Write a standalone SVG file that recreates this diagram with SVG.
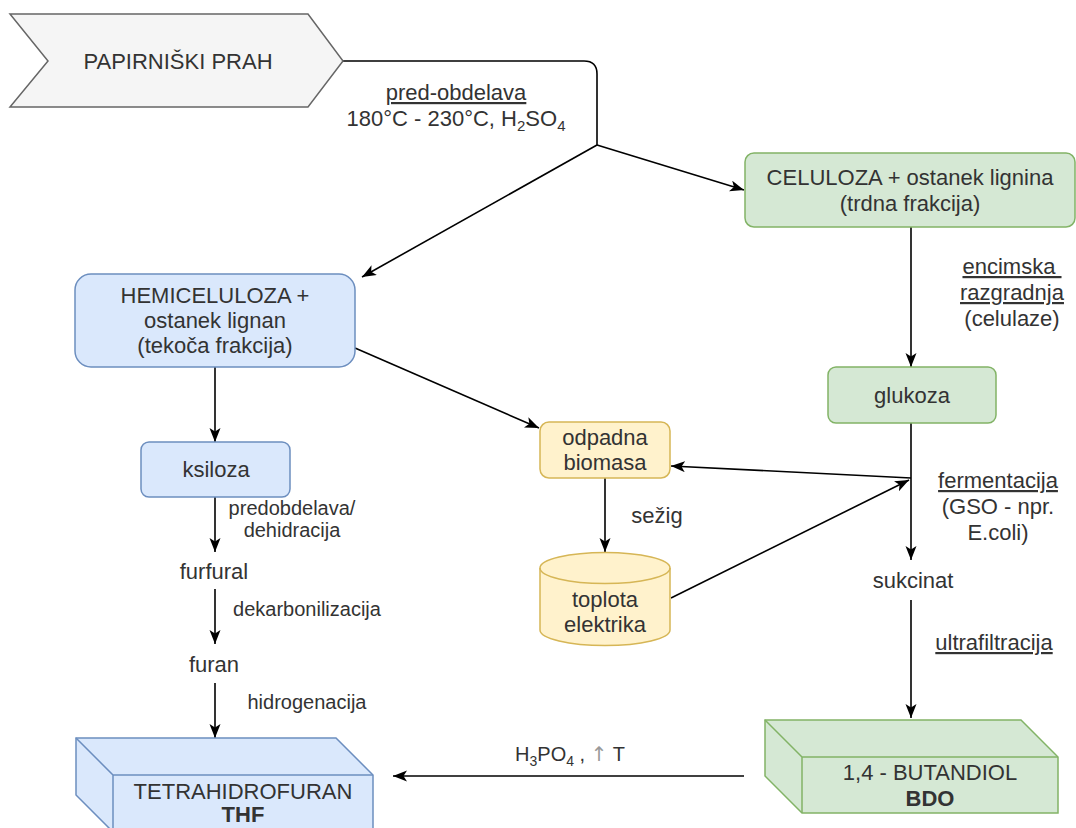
<svg xmlns="http://www.w3.org/2000/svg" width="1076" height="828" viewBox="0 0 1076 828">
<style>
text{font-family:"Liberation Sans",Arial,sans-serif;fill:#333;}
.n{font-size:22px;text-anchor:middle;}
.s{font-size:20px;text-anchor:middle;}
.u{text-decoration:underline;}
.b{font-weight:bold;}
.c{fill:none;stroke:#000;stroke-width:1.6;}
.ca{fill:none;stroke:#000;stroke-width:1.6;marker-end:url(#ah);}
.grey{fill:#f5f5f5;stroke:#666;stroke-width:1.5;}
.blue{fill:#dae8fc;stroke:#6c8ebf;stroke-width:1.5;}
.green{fill:#d5e8d4;stroke:#82b366;stroke-width:1.5;}
.yellow{fill:#fff2cc;stroke:#d6b656;stroke-width:1.5;}
</style>
<defs>
<marker id="ah" markerUnits="userSpaceOnUse" markerWidth="16" markerHeight="12" refX="14" refY="5.5" orient="auto">
<path d="M0,0 L14,5.5 L0,11 L3.5,5.5 z" fill="#000"/>
</marker>
</defs>
<rect width="1076" height="828" fill="#fff"/>

<g id="connectors">
<path class="c" d="M343,61 L584,61 Q597,61 597,74 L597,145"/>
<path class="ca" d="M597,145 L744,190"/>
<path class="ca" d="M597,145 L362,277"/>
<path class="ca" d="M355,348 L539,428"/>
<path class="ca" d="M215,367 L215,442"/>
<path class="ca" d="M215,497 L215,552"/>
<path class="ca" d="M215,589 L215,644"/>
<path class="ca" d="M215,683 L215,738"/>
<path class="ca" d="M911,227 L911,367"/>
<path class="ca" d="M911,423 L911,560"/>
<path class="ca" d="M911,478 L671,466"/>
<path class="ca" d="M671,598 L909,480"/>
<path class="ca" d="M605,478 L605,552"/>
<path class="ca" d="M911,600 L911,718"/>
<path class="ca" d="M744,776 L393,776"/>
</g>

<g id="labels">
<text class="n u" x="456" y="100">pred-obdelava</text>
<text class="n" x="456" y="126">180°C - 230°C, H<tspan dy="5" font-size="15">2</tspan><tspan dy="-5">SO</tspan><tspan dy="5" font-size="15">4</tspan></text>
<text class="n u" x="1012" y="274" style="white-space:pre">encimska </text>
<text class="n u" x="1012" y="300">razgradnja</text>
<text class="n" x="1012" y="326">(celulaze)</text>
<text class="n u" x="998" y="488">fermentacija</text>
<text class="n" x="998" y="514">(GSO - npr.</text>
<text class="n" x="998" y="540">E.coli)</text>
<text class="n" x="913" y="588">sukcinat</text>
<text class="n u" x="994" y="650">ultrafiltracija</text>
<text class="n" x="657" y="523">sežig</text>
<text class="s" x="292" y="515">predobdelava/</text>
<text class="s" x="292" y="537">dehidracija</text>
<text class="n" x="214" y="579">furfural</text>
<text class="s" x="307" y="616">dekarbonilizacija</text>
<text class="n" x="214" y="672">furan</text>
<text class="s" x="307" y="709">hidrogenacija</text>
<text class="s" x="570" y="761">H<tspan dy="5" font-size="14">3</tspan><tspan dy="-5">PO</tspan><tspan dy="5" font-size="14">4</tspan><tspan dy="-5"> , </tspan><tspan style="fill:#999;font-family:'DejaVu Sans',sans-serif">↑</tspan> T</text>
</g>

<g id="papirniski-prah">
<polygon class="grey" points="10,14 308,14 343,61 308,107 10,107 48,61"/>
<text class="n" x="178" y="69">PAPIRNIŠKI PRAH</text>
</g>

<g id="celuloza">
<rect class="green" x="745" y="153" width="330" height="74" rx="9"/>
<text class="n" x="910" y="185">CELULOZA + ostanek lignina</text>
<text class="n" x="910" y="211">(trdna frakcija)</text>
</g>

<g id="hemiceluloza">
<rect class="blue" x="75" y="274" width="280" height="93" rx="16"/>
<text class="n" x="215" y="303">HEMICELULOZA +</text>
<text class="n" x="215" y="328">ostanek lignan</text>
<text class="n" x="215" y="353">(tekoča frakcija)</text>
</g>

<g id="ksiloza">
<rect class="blue" x="141" y="442" width="149" height="55" rx="8"/>
<text class="n" x="216" y="477">ksiloza</text>
</g>

<g id="glukoza">
<rect class="green" x="828" y="367" width="168" height="56" rx="8"/>
<text class="n" x="912" y="403">glukoza</text>
</g>

<g id="odpadna-biomasa">
<rect class="yellow" x="540" y="422" width="130" height="56" rx="9"/>
<text class="n" x="605" y="445">odpadna</text>
<text class="n" x="605" y="470">biomasa</text>
</g>

<g id="toplota-elektrika">
<path class="yellow" d="M540,568 A65,15.5 0 0 1 670,568 L670,630 A65,15.5 0 0 1 540,630 Z"/>
<path class="yellow" style="fill:none" d="M540,568 A65,15.5 0 0 0 670,568"/>
<text class="n" x="605" y="607">toplota</text>
<text class="n" x="605" y="632">elektrika</text>
</g>

<g id="tetrahidrofuran">
<path class="blue" d="M76,738 L336,738 L373,775 L373,832 L113,832 L76,795 Z"/>
<path class="blue" style="fill:none" d="M76,738 L113,775 L373,775 M113,775 L113,832"/>
<text class="n" x="243" y="799">TETRAHIDROFURAN</text>
<text class="n b" x="243" y="822">THF</text>
</g>

<g id="butandiol">
<path class="green" d="M765,720 L1021,720 L1058,757 L1058,813 L802,813 L765,776 Z"/>
<path class="green" style="fill:none" d="M765,720 L802,757 L1058,757 M802,757 L802,813"/>
<text class="n" x="930" y="780">1,4 - BUTANDIOL</text>
<text class="n b" x="930" y="806">BDO</text>
</g>
</svg>
